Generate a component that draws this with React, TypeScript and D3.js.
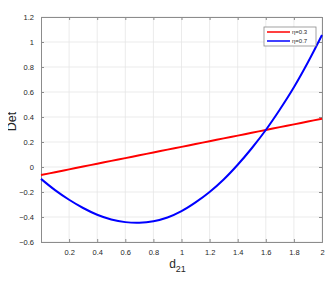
import React, { useEffect, useRef } from 'react';
import * as d3 from 'd3';

const xTicks = [0.2, 0.4, 0.6, 0.8, 1, 1.2, 1.4, 1.6, 1.8, 2];
const yTicks = [-0.6, -0.4, -0.2, 0, 0.2, 0.4, 0.6, 0.8, 1, 1.2];

const d21 = [0, 0.1, 0.2, 0.3, 0.4, 0.5, 0.6, 0.7, 0.8, 0.9, 1, 1.1, 1.2, 1.3, 1.4, 1.5, 1.6, 1.7, 1.8, 1.9, 2];
const det03 = [-0.064, -0.042, -0.019, 0.004, 0.026, 0.049, 0.071, 0.094, 0.116, 0.139, 0.161, 0.184, 0.206, 0.229, 0.251, 0.274, 0.296, 0.319, 0.341, 0.364, 0.386];
const det07 = [-0.095, -0.185, -0.262, -0.328, -0.382, -0.42, -0.441, -0.446, -0.434, -0.404, -0.353, -0.283, -0.2, -0.1, 0.018, 0.15, 0.296, 0.46, 0.638, 0.838, 1.056];

const seriesNames = ['η=0.3', 'η=0.7'];
const seriesColors = ['#ff0000', '#0000ff'];

const App = () => {
  const svgRef = useRef<SVGSVGElement>(null);

  useEffect(() => {
    const margin = { top: 17, right: 11, bottom: 39, left: 41 };
    const W = 333, H = 281;
    const width = W - margin.left - margin.right;
    const height = H - margin.top - margin.bottom;

    const svg = d3.select(svgRef.current).attr('width', W).attr('height', H);
    svg.selectAll('*').remove();
    const g = svg.append('g').attr('transform', `translate(${margin.left},${margin.top})`);

    const x = d3.scaleLinear().domain([0, 2]).range([0, width]);
    const y = d3.scaleLinear().domain([-0.6, 1.2]).range([height, 0]);

    g.append('rect').attr('width', width).attr('height', height).attr('fill', '#fff');

    // grid
    g.selectAll('.gx').data(xTicks).enter().append('line')
      .attr('x1', (d) => x(d)).attr('x2', (d) => x(d))
      .attr('y1', 0).attr('y2', height)
      .attr('stroke', '#e6e6e6').attr('stroke-width', 0.8);
    g.selectAll('.gy').data(yTicks).enter().append('line')
      .attr('x1', 0).attr('x2', width)
      .attr('y1', (d) => y(d)).attr('y2', (d) => y(d))
      .attr('stroke', '#e6e6e6').attr('stroke-width', 0.8);

    const font = 'Arial, "Liberation Sans", sans-serif';
    const axisColor = '#8c8c8c';

    const xa = g.append('g').attr('transform', `translate(0,${height})`)
      .call(d3.axisBottom(x).tickValues(xTicks).tickSize(-3).tickPadding(8).tickFormat(d3.format('~g')));
    const xt = g.append('g').call(d3.axisTop(x).tickValues(xTicks).tickSize(-3).tickFormat(() => ''));
    const ya = g.append('g')
      .call(d3.axisLeft(y).tickValues(yTicks).tickSize(-3).tickPadding(7).tickFormat(d3.format('~g')));
    const yr = g.append('g').attr('transform', `translate(${width},0)`)
      .call(d3.axisRight(y).tickValues(yTicks).tickSize(-3).tickFormat(() => ''));

    [xa, xt, ya, yr].forEach((a) => {
      a.select('.domain').attr('stroke', axisColor);
      a.selectAll('.tick line').attr('stroke', axisColor);
      a.selectAll('text').attr('fill', '#262626').style('font-family', font).style('font-size', '7.5px');
    });

    const line = d3.line<number>()
      .x((_, i) => x(d21[i]))
      .y((d) => y(d))
      .curve(d3.curveCatmullRom);

    [det03, det07].forEach((s, i) => {
      g.append('path').datum(s).attr('d', line)
        .attr('fill', 'none').attr('stroke', seriesColors[i]).attr('stroke-width', 2);
    });

    // legend
    const lg = svg.append('g').attr('transform', 'translate(264,27)');
    lg.append('rect').attr('width', 52).attr('height', 19)
      .attr('fill', '#fff').attr('stroke', '#8c8c8c').attr('stroke-width', 0.8);
    seriesNames.forEach((n, i) => {
      const yy = 5 + i * 9;
      lg.append('line').attr('x1', 3).attr('x2', 26).attr('y1', yy).attr('y2', yy)
        .attr('stroke', seriesColors[i]).attr('stroke-width', 1.5);
      lg.append('text').attr('x', 28).attr('y', yy + 2.2).text(n)
        .style('font-family', font).style('font-size', '6px').attr('fill', '#262626');
    });

    // axis labels
    const xl = svg.append('text').attr('x', margin.left + width / 2 - 4).attr('y', 268)
      .attr('text-anchor', 'middle').style('font-family', font).style('font-size', '12px').attr('fill', '#262626');
    xl.append('tspan').text('d');
    xl.append('tspan').attr('dy', 4).style('font-size', '9px').text('21');

    svg.append('text').attr('transform', `translate(16,${margin.top + height / 2 - 8}) rotate(-90)`)
      .attr('text-anchor', 'middle').style('font-family', font).style('font-size', '12.5px')
      .attr('fill', '#262626').text('Det');
  }, []);

  return (
    <div style={{ margin: -8 }}>
      <svg ref={svgRef}></svg>
    </div>
  );
};

export default App;
